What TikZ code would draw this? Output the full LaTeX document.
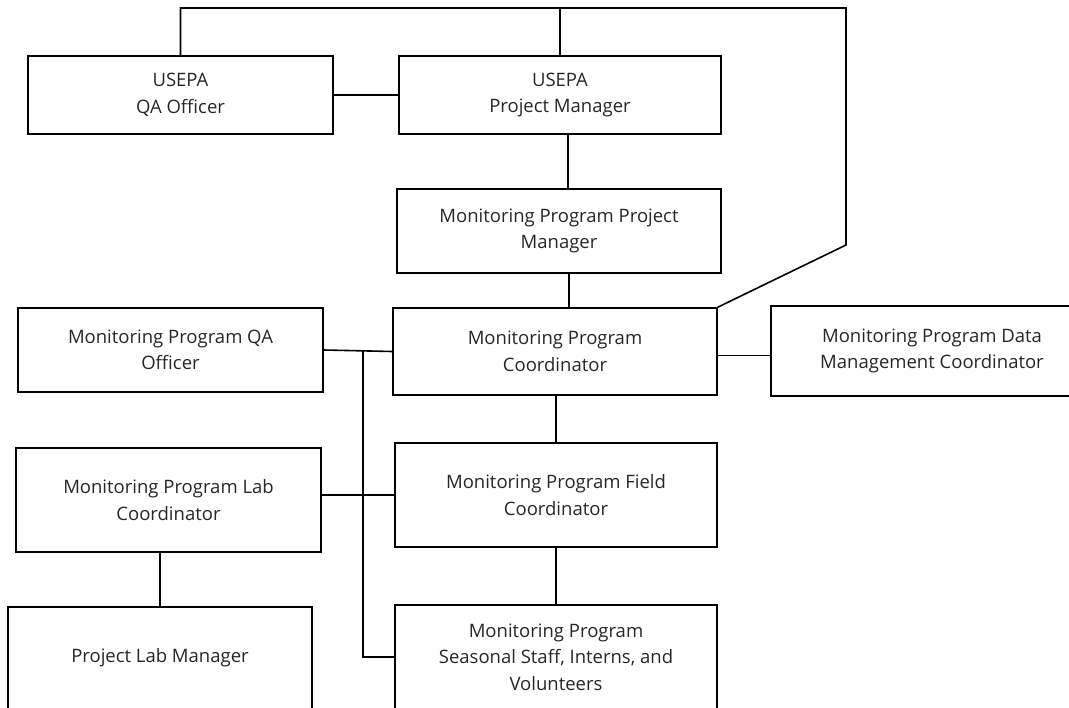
\documentclass[tikz,border=0pt]{standalone}
\usepackage{fontspec}
\setmainfont{Open Sans}
\begin{document}
\begin{tikzpicture}[x=1pt,y=-1pt,line width=1.6pt,
  role/.style={draw,rectangle,align=center,inner sep=0pt,text=black!85,
    font=\fontsize{18.5}{26.5}\selectfont}]
		\clip (0,0) rectangle (1069,708);
		\node[role,minimum width=305pt,minimum height=78pt](usqa) at (180.5,95) {USEPA\\QA Officer};
		\node[role,minimum width=322pt,minimum height=78pt](uspm) at (560,95) {USEPA\\Project Manager};
		\node[role,minimum width=324pt,minimum height=84pt](mppm) at (559,231) {Monitoring Program Project\\Manager};
		\node[role,minimum width=305pt,minimum height=84pt](mpqa) at (170.5,350) {Monitoring Program QA\\Officer};
		\node[role,minimum width=324pt,minimum height=87pt](coord) at (555,351.5) {Monitoring Program\\Coordinator};
		\node[role,minimum width=322pt,minimum height=90pt](data) at (932,351) {Monitoring Program Data\\Management Coordinator};
		\node[role,minimum width=305pt,minimum height=104pt](lab) at (168.5,500) {Monitoring Program Lab\\Coordinator};
		\node[role,minimum width=322pt,minimum height=104pt](field) at (556,495) {Monitoring Program Field\\Coordinator};
		\node[role,minimum width=304pt,minimum height=102pt](plm) at (160,658) {Project Lab Manager};
		\node[role,minimum width=322pt,minimum height=104pt](staff) at (556,657) {Monitoring Program\\Seasonal Staff, Interns, and\\Volunteers};
		\coordinate (topbar) at (846,8);
		\coordinate (bend) at (846,245);
		\coordinate (bustop) at (363,351);
		\draw (usqa.north) |- (topbar) -- (bend) -- (coord.north east);
		\draw (uspm.north) -- (uspm.north |- topbar);
		\draw (usqa.east) -- (uspm.west);
		\draw ([xshift=8pt]uspm.south) -- ([xshift=8pt]uspm.south |- mppm.north);
		\draw ([xshift=10pt]mppm.south) -- ([xshift=10pt]mppm.south |- coord.north);
		\draw (mpqa.east) -- (coord.west);
		\draw ([yshift=-4pt]coord.east) -- ([yshift=-4pt]coord.east -| data.west);
		\draw (field.north) -- (field.north |- coord.south);
		\draw (field.south) -- (staff.north);
		\draw (field.west -| lab.east) -- (field.west);
		\draw (plm.north) -- (plm.north |- lab.south);
		\draw (bustop) |- (staff.west);
	\end{tikzpicture}
\end{document}
